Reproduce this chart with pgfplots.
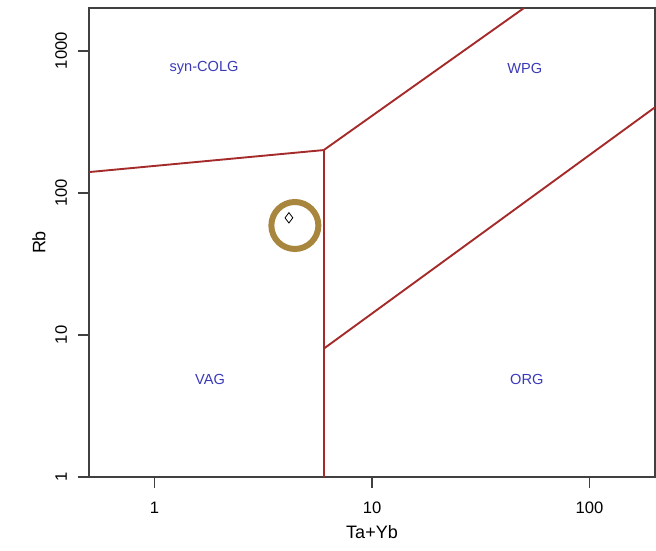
\documentclass[border=0pt]{standalone}
\usepackage{pgfplots}
\pgfplotsset{compat=1.18}
\usepackage{fontspec}
\setmainfont{Liberation Sans}
\definecolor{lin}{HTML}{A52A2A}
\definecolor{lab}{HTML}{3A3AB8}
\definecolor{ring}{HTML}{A8863E}
\definecolor{ax}{HTML}{404040}
\begin{document}
\begin{tikzpicture}
\begin{axis}[
  xmode=log, ymode=log,
  scale only axis, width=283pt, height=234.5pt,
  xmin=0.5, xmax=200, ymin=1, ymax=2000,
  axis line style={ax, line width=0.75pt},
  xtick={1,10,100}, xticklabels={1,10,100},
  ytick={1,10,100,1000}, yticklabels={1,10,100,1000},
  xminorticks=false, yminorticks=false,
  tick align=outside, tick pos=left,
  major tick length=5.5pt,
  tick style={ax, line width=0.75pt},
  /pgf/number format/assume math mode=true,
  xticklabel style={font=\fontsize{8.3}{9}\selectfont, yshift=-3.5pt},
  yticklabel style={font=\fontsize{8.3}{9}\selectfont, rotate=90, anchor=south, xshift=0pt, yshift=2pt},
  xlabel={Ta+Yb}, ylabel={Rb},
  label style={font=\fontsize{9}{10}\selectfont},
  xlabel style={yshift=1pt},
  ylabel style={yshift=-2pt},
  clip=true,
]
\addplot[lin, line width=0.95pt] coordinates {(0.5,140) (6,200)};
\addplot[lin, line width=0.95pt] coordinates {(6,1) (6,200)};
\addplot[lin, line width=0.95pt] coordinates {(6,200) (50,2000)};
\addplot[lin, line width=0.95pt] coordinates {(6,8) (200,400)};
\addplot[only marks, mark=o, mark size=11.75pt, ring, line width=3pt] coordinates {(4.42,58.9)};
\addplot[only marks, mark=diamond, mark size=2.6pt, black, line width=0.4pt] coordinates {(4.15,66.7)};
\node[lab, font=\fontsize{7.3}{8}\selectfont, yshift=-1.3pt] at (axis cs:1.69,784) {syn-COLG};
\node[lab, font=\fontsize{7.3}{8}\selectfont, yshift=-1.3pt] at (axis cs:50.4,784) {WPG};
\node[lab, font=\fontsize{7.3}{8}\selectfont, yshift=-1pt] at (axis cs:1.8,5) {VAG};
\node[lab, font=\fontsize{7.3}{8}\selectfont, yshift=-1pt] at (axis cs:51.5,5) {ORG};
\end{axis}
\useasboundingbox ([shift={(-44.5pt,-37pt)}]current axis.south west) rectangle ([shift={(0.5pt,4pt)}]current axis.north east);
\end{tikzpicture}
\end{document}
